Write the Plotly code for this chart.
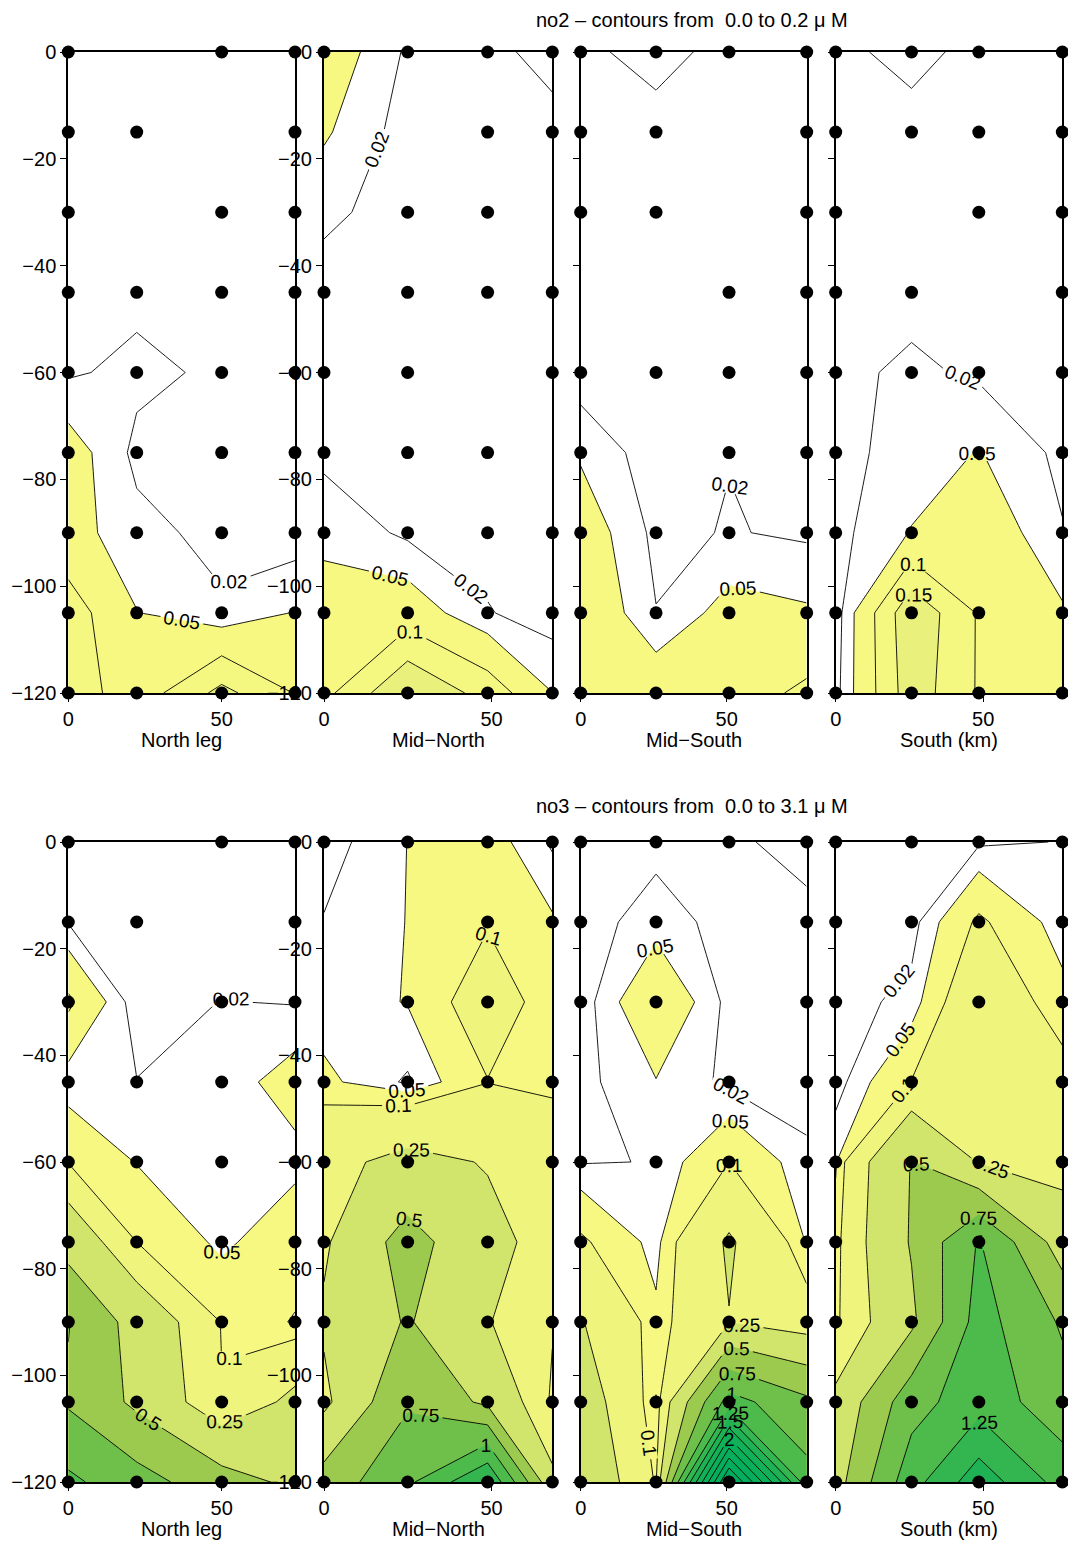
import plotly.graph_objects as go

# ---------------- data ----------------
depths = [0, -15, -30, -45, -60, -75, -90, -105, -120]

leg_names = ["North leg", "Mid\u2212North", "Mid\u2212South", "South (km)"]
station_labels = [["16", "15", "14", "13"], ["9", "10", "11", "12"],
                  ["8", "7", "6", "5"], ["1", "2", "3", "4"]]
station_km = [[0, 22.3, 50.0, 73.9], [0, 24.95, 48.8, 68.1],
              [0, 25.8, 50.8, 77.4], [0, 25.7, 48.5, 76.8]]

# 1 = bottle sampled at that station / depth (rows = depths)
sampled_north = [[1, 0, 1, 1], [1, 1, 0, 1], [1, 0, 1, 1], [1, 1, 1, 1], [1, 1, 1, 1],
                 [1, 1, 1, 1], [1, 1, 1, 1], [1, 1, 1, 1], [1, 1, 1, 1]]
sampled_midnorth = [[1, 1, 1, 1], [0, 0, 1, 1], [0, 1, 1, 0], [1, 1, 1, 1], [1, 1, 0, 1],
                    [1, 1, 1, 0], [1, 1, 1, 1], [1, 1, 1, 1], [1, 1, 1, 1]]
sampled_midsouth = [[1, 1, 1, 1], [1, 1, 0, 1], [1, 1, 0, 1], [0, 0, 1, 1], [1, 1, 1, 1],
                    [1, 0, 1, 1], [1, 1, 1, 1], [1, 1, 1, 1], [1, 1, 1, 1]]
sampled_south = [[1, 1, 1, 1], [1, 1, 1, 1], [1, 0, 1, 1], [1, 1, 0, 1], [1, 1, 1, 1],
                 [1, 0, 1, 1], [1, 1, 0, 1], [1, 1, 1, 1], [1, 1, 1, 1]]

# no2 (uM), rows = depths, columns = stations
no2_north = [[0.008, 0.006, 0.008, 0.006], [0.008, 0.007, 0.008, 0.006],
             [0.009, 0.008, 0.008, 0.006], [0.008, 0.012, 0.008, 0.006],
             [0.016, 0.028, 0.014, 0.006], [0.070, 0.012, 0.010, 0.006],
             [0.065, 0.030, 0.010, 0.003], [0.125, 0.051, 0.025, 0.052],
             [0.130, 0.070, 0.165, 0.098]]
no2_midnorth = [[0.077, 0.015, 0.012, 0.030], [0.055, 0.006, 0.008, 0.010],
                [0.025, 0.010, 0.008, 0.008], [0.010, 0.008, 0.007, 0.006],
                [0.010, 0.008, 0.007, 0.006], [0.012, 0.009, 0.007, 0.006],
                [0.042, 0.014, 0.008, 0.005], [0.065, 0.075, 0.022, 0.005],
                [0.085, 0.200, 0.130, 0.0505]]
no2_midsouth = [[0.0136, 0.030, 0.0104, 0.008], [0.008, 0.009, 0.008, 0.007],
                [0.007, 0.008, 0.007, 0.006], [0.006, 0.007, 0.006, 0.006],
                [0.003, 0.007, 0.008, 0.006], [0.045, 0.003, 0.019, 0.008],
                [0.075, 0.012, 0.022, 0.015], [0.090, 0.021, 0.065, 0.055],
                [0.090, 0.080, 0.075, 0.110]]
no2_south = [[0.012, 0.030, 0.010, 0.008], [0.008, 0.008, 0.008, 0.006],
             [0.008, 0.008, 0.008, 0.006], [0.008, 0.010, 0.008, 0.006],
             [0.012, 0.026, 0.015, 0.008], [0.012, 0.030, 0.052, 0.012],
             [0.010, 0.052, 0.080, 0.022], [0.005, 0.190, 0.095, 0.055],
             [0.010, 0.180, 0.095, 0.070]]

# no3 (uM)
no3_north = [[0.005, 0.005, 0.008, 0.005], [0.018, 0.008, 0.010, 0.008],
             [0.110, 0.002, 0.021, 0.018], [0.030, 0.021, 0.030, 0.070],
             [0.095, 0.048, 0.035, 0.037], [0.400, 0.100, 0.040, 0.085],
             [0.760, 0.400, 0.095, 0.045], [0.720, 0.450, 0.105, 0.300],
             [1.050, 0.850, 0.600, 0.450]]
no3_midnorth = [[0.005, 0.0505, 0.070, 0.015], [0.022, 0.051, 0.095, 0.055],
                [0.030, 0.052, 0.140, 0.070], [0.060, 0.015, 0.098, 0.095],
                [0.200, 0.300, 0.240, 0.120], [0.220, 0.600, 0.300, 0.190],
                [0.280, 0.520, 0.260, 0.110], [0.200, 0.720, 0.450, 0.080],
                [0.600, 0.950, 1.500, 0.300]]
no3_midsouth = [[0.005, 0.010, 0.012, 0.035], [0.005, 0.035, 0.008, 0.008],
                [0.003, 0.095, 0.010, 0.006], [0.010, 0.048, 0.012, 0.010],
                [0.018, 0.021, 0.100, 0.025], [0.110, 0.035, 0.270, 0.045],
                [0.260, 0.060, 0.245, 0.150], [0.350, 0.049, 1.100, 0.800],
                [0.420, 0.090, 3.100, 1.100]]
no3_south = [[0.005, 0.005, 0.015, 0.021], [0.005, 0.008, 0.110, 0.030],
             [0.005, 0.030, 0.170, 0.065], [0.006, 0.102, 0.220, 0.130],
             [0.045, 0.510, 0.240, 0.180], [0.070, 0.520, 1.020, 0.380],
             [0.080, 0.450, 1.100, 0.720], [0.300, 0.900, 1.150, 0.850],
             [0.400, 1.150, 1.650, 1.150]]

no2_levels = [0.02, 0.05, 0.1, 0.15]
no2_fills = [None, "#F6F882", "#F4F780", "#E9F07B"]
no3_levels = [0.02, 0.05, 0.1, 0.25, 0.5, 0.75, 1.0, 1.25, 1.5, 1.75, 2.0, 2.25, 2.5, 2.75, 3.0]
no3_fills = [None, "#F6F882", "#EEF47C", "#D1E46B", "#9CCA4F", "#6FC04A", "#4DBB4C",
             "#33B650", "#1FB254", "#12B057", "#0AAF59", "#05AE5B", "#02AD5D", "#00AD5E", "#00AC60"]

rows = [
    dict(name="no2", vmin="0.0", vmax="0.2", levels=no2_levels, fills=no2_fills,
         panels=[no2_north, no2_midnorth, no2_midsouth, no2_south]),
    dict(name="no3", vmin="0.0", vmax="3.1", levels=no3_levels, fills=no3_fills,
         panels=[no3_north, no3_midnorth, no3_midsouth, no3_south]),
]
sampled = [sampled_north, sampled_midnorth, sampled_midsouth, sampled_south]

# ---------------- layout geometry (pixels in the page) ----------------
OFF = 8                       # default page margin around the plot div
W, H = 1076 - OFF, 1542 - OFF
px_x = [(68.3, 295.0), (324.0, 552.3), (580.7, 806.7), (835.7, 1062.3)]
px_y = [(52, 693), (842, 1482)]
FONT = "Liberation Sans, Arial, Helvetica, sans-serif"


def fx(px):
    return (px - OFF) / W


def fy(py):
    return 1 - (py - OFF) / H


fig = go.Figure()
layout = dict(template="none", width=W, height=H, margin=dict(l=0, r=0, t=0, b=0, pad=0),
              autosize=False,
              paper_bgcolor="white", plot_bgcolor="white", showlegend=False,
              font=dict(family=FONT, size=20, color="black"))
annotations = []

for r, row in enumerate(rows):
    for p in range(4):
        idx = r * 4 + p + 1
        xb = "x%d" % (2 * idx - 1)
        ya = "y%d" % idx
        xs = station_km[p]
        z = row["panels"][p]
        zmax = max(max(v) for v in z)
        zmin = min(min(v) for v in z)

        # filled bands (region above each level)
        for L, col in zip(row["levels"], row["fills"]):
            if col is None or L >= zmax or L <= zmin:
                continue
            fig.add_trace(go.Contour(
                x=xs, y=depths, z=z,
                contours=dict(type="constraint", operation="<", value=L, showlines=False),
                fillcolor=col, line=dict(width=0, smoothing=0),
                showscale=False, hoverinfo="skip", xaxis=xb, yaxis=ya))
        # contour lines with labels
        for L in row["levels"]:
            if L >= zmax or L <= zmin:
                continue
            fig.add_trace(go.Contour(
                x=xs, y=depths, z=z, autocontour=False,
                contours=dict(start=L, end=L, size=1, coloring="lines", showlabels=True,
                              labelfont=dict(size=19, color="black", family=FONT)),
                colorscale=[[0, "black"], [1, "black"]],
                line=dict(width=0.9, smoothing=0),
                showscale=False, hoverinfo="skip", xaxis=xb, yaxis=ya))
        # sample dots
        dx, dy = [], []
        for i, d in enumerate(depths):
            for j, xv in enumerate(xs):
                if sampled[p][i][j]:
                    dx.append(xv)
                    dy.append(d)
        fig.add_trace(go.Scatter(x=dx, y=dy, mode="markers",
                                 marker=dict(color="black", size=13),
                                 cliponaxis=False, hoverinfo="skip",
                                 xaxis=xb, yaxis=ya))

        x0, x1 = px_x[p]
        y0, y1 = px_y[r]
        dom_x = [fx(x0), fx(x1)]
        dom_y = [fy(y1), fy(y0)]
        rng = [0, xs[-1]]
        layout["xaxis%d" % (2 * idx - 1)] = dict(
            domain=dom_x, anchor=ya, range=rng, tickvals=[0, 50, 100],
            ticktext=["0", "50", "100"], ticks="outside", ticklen=7, tickcolor="black",
            showline=True, mirror=True, linewidth=2, linecolor="black", automargin=False,
            showgrid=False, zeroline=False, tickfont=dict(size=20))
        layout["xaxis%d" % (2 * idx)] = dict(
            overlaying=xb, anchor=ya, side="top", range=rng, tickvals=xs,
            ticktext=station_labels[p], ticks="outside", ticklen=4, tickcolor="black",
            showline=False, showgrid=False, zeroline=False, automargin=False,
            tickfont=dict(size=20))
        layout["yaxis%d" % idx] = dict(
            domain=dom_y, anchor=xb, range=[-120, 0],
            tickvals=[0, -20, -40, -60, -80, -100, -120],
            ticktext=["0", "\u221220", "\u221240", "\u221260", "\u221280", "\u2212100", "\u2212120"],
            ticks="outside", ticklen=6, tickcolor="black", showticklabels=(p < 2),
            showline=True, mirror=True, linewidth=2, linecolor="black", automargin=False,
            showgrid=False, zeroline=False, tickfont=dict(size=20))

        annotations.append(dict(text=leg_names[p], x=fx((x0 + x1) / 2),
                                y=fy(y1 + 47), xref="paper", yref="paper",
                                showarrow=False, xanchor="center", yanchor="middle",
                                font=dict(size=20)))
    # row title (kept fully inside the canvas)
    title_text = "%s \u2013 contours from \u00a0%s to %s \u03bc M" % (row["name"], row["vmin"], row["vmax"])
    if r == 0:
        annotations.append(dict(text=title_text, x=fx(691.5), y=fy(OFF), xref="paper",
                                yref="paper", showarrow=False, xanchor="center",
                                yanchor="top", borderpad=0, font=dict(size=20)))
    else:
        annotations.append(dict(text=title_text, x=fx(691.5), y=fy(px_y[r][0] - 36),
                                xref="paper", yref="paper", showarrow=False,
                                xanchor="center", yanchor="middle", font=dict(size=20)))

layout["annotations"] = annotations
fig.update_layout(**layout)
fig.write_html("out.html")
